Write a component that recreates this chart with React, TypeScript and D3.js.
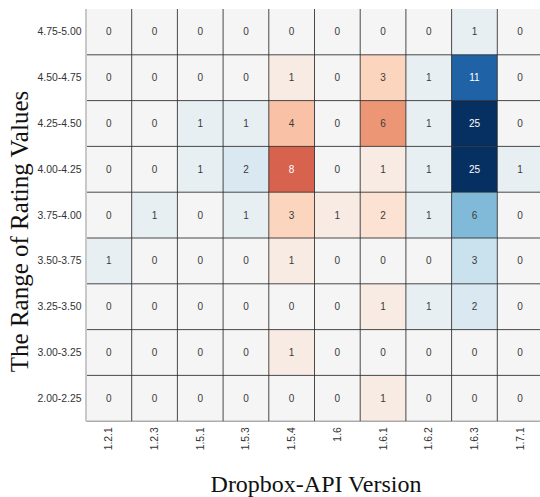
import React from "react";
import * as d3 from "d3";

const versions = ["1.2.1", "1.2.3", "1.5.1", "1.5.3", "1.5.4", "1.6", "1.6.1", "1.6.2", "1.6.3", "1.7.1"];
// +1 = drawn on the red side of the diverging scale, -1 = blue side
const versionSign = [-1, -1, -1, -1, 1, 1, 1, -1, -1, -1];
const ranges = ["4.75-5.00", "4.50-4.75", "4.25-4.50", "4.00-4.25", "3.75-4.00", "3.50-3.75", "3.25-3.50", "3.00-3.25", "2.00-2.25"];
const counts = [
  [0, 0, 0, 0, 0, 0, 0, 0, 1, 0],
  [0, 0, 0, 0, 1, 0, 3, 1, 11, 0],
  [0, 0, 1, 1, 4, 0, 6, 1, 25, 0],
  [0, 0, 1, 2, 8, 0, 1, 1, 25, 1],
  [0, 1, 0, 1, 3, 1, 2, 1, 6, 0],
  [1, 0, 0, 0, 1, 0, 0, 0, 3, 0],
  [0, 0, 0, 0, 0, 0, 1, 1, 2, 0],
  [0, 0, 0, 0, 1, 0, 0, 0, 0, 0],
  [0, 0, 0, 0, 0, 0, 1, 0, 0, 0],
];
const colorLimit = 13.5;
const xTitle = "Dropbox-API Version";
const yTitle = "The Range of Rating Values";

const W = 540, H = 497;
const left = 86, top = 9;
const cellW = 45.7, cellH = 45.8;

function luminance(c: string) {
  const rgb = d3.rgb(c);
  const f = (v: number) => {
    const s = v / 255;
    return s <= 0.03928 ? s / 12.92 : Math.pow((s + 0.055) / 1.055, 2.4);
  };
  return 0.2126 * f(rgb.r) + 0.7152 * f(rgb.g) + 0.0722 * f(rgb.b);
}

export default function App() {
  const x = d3.scaleBand<string>().domain(versions).range([left, left + cellW * versions.length]).padding(0);
  const y = d3.scaleBand<string>().domain(ranges).range([top, top + cellH * ranges.length]).padding(0);
  const stops = [...d3.schemeRdBu[11]].reverse();
  stops[5] = "#f5f5f5";
  const interp = d3.piecewise(d3.interpolateRgb, stops);
  const color = d3.scaleSequential(interp).domain([-colorLimit, colorLimit]).clamp(true);
  const bottom = top + cellH * ranges.length;
  const right = left + cellW * versions.length;

  const cells: React.ReactNode[] = [];
  ranges.forEach((r, ri) => {
    versions.forEach((v, ci) => {
      const val = counts[ri][ci];
      const fill = color(val * versionSign[ci]) as string;
      const txt = luminance(fill) < 0.408 ? "#ffffff" : "#3a3a3a";
      cells.push(
        <g key={`${ri}-${ci}`}>
          <rect x={x(v)!} y={y(r)!} width={x.bandwidth()} height={y.bandwidth()} fill={fill} />
          <text
            x={x(v)! + x.bandwidth() / 2}
            y={y(r)! + y.bandwidth() / 2}
            textAnchor="middle"
            dominantBaseline="central"
            fontSize={10}
            fontFamily="'Liberation Sans', Arial, sans-serif"
            fill={txt}
          >
            {val}
          </text>
        </g>
      );
    });
  });

  return (
    <svg width={W} height={H} style={{ position: "absolute", left: 0, top: 0 }}>
      <rect x={0} y={0} width={W} height={H} fill="#ffffff" />
      {cells}
      {versions.slice(1).map((v) => (
        <line key={`v-${v}`} x1={x(v)!} x2={x(v)!} y1={top} y2={bottom} stroke="#2a2a2a" strokeWidth={1} strokeOpacity={0.85} />
      ))}
      {ranges.slice(1).map((r) => (
        <line key={`h-${r}`} x1={left} x2={right} y1={y(r)!} y2={y(r)!} stroke="#2a2a2a" strokeWidth={1} strokeOpacity={0.85} />
      ))}
      <line x1={left} x2={right} y1={bottom} y2={bottom} stroke="#555" strokeWidth={1} strokeOpacity={0.7} />
      <line x1={left} x2={left} y1={top} y2={bottom} stroke="#c8c8c8" strokeWidth={2} />
      {ranges.map((r) => (
        <text
          key={`yl-${r}`}
          x={left - 4.5}
          y={y(r)! + y.bandwidth() / 2}
          textAnchor="end"
          dominantBaseline="central"
          fontSize={10.4}
          fontFamily="'Liberation Sans', Arial, sans-serif"
          fill="#333"
        >
          {r}
        </text>
      ))}
      {versions.map((v) => {
        const cx = x(v)! + x.bandwidth() / 2;
        const ty = bottom + 6;
        return (
          <text
            key={`xl-${v}`}
            transform={`translate(${cx},${ty}) rotate(-90)`}
            textAnchor="end"
            dominantBaseline="central"
            fontSize={10.4}
            fontFamily="'Liberation Sans', Arial, sans-serif"
            fill="#333"
          >
            {v}
          </text>
        );
      })}
      <text
        x={316}
        y={492}
        textAnchor="middle"
        fontSize={24}
        fontFamily="'Liberation Serif', 'Times New Roman', serif"
        fill="#111"
      >
        {xTitle}
      </text>
      <text
        transform={`translate(28,231.5) rotate(-90)`}
        textAnchor="middle"
        fontSize={25}
        fontFamily="'Liberation Serif', 'Times New Roman', serif"
        fill="#111"
      >
        {yTitle}
      </text>
    </svg>
  );
}
